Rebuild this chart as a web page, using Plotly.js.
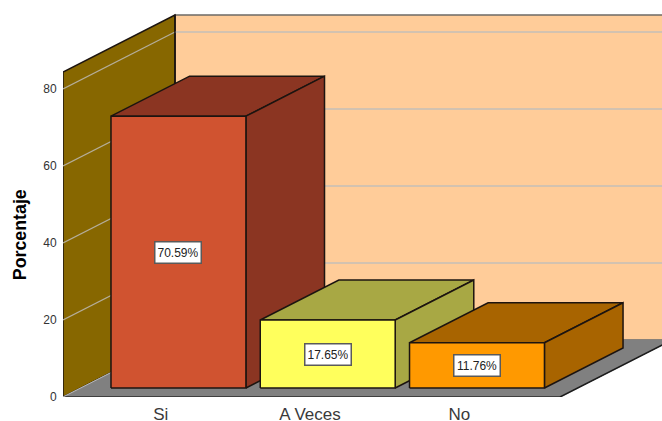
<!DOCTYPE html>
<html>
<head>
<meta charset="utf-8">
<script src="https://cdn.plot.ly/plotly-3.0.1.min.js"></script>
<style>html,body{margin:0;padding:0;background:#fff}#c{width:662px;height:421px}</style>
</head>
<body>
<div id="c"></div>
<script>
const categories = ["Si", "A Veces", "No"];
const values = [70.59, 17.65, 11.76];
const valueLabels = ["70.59%", "17.65%", "11.76%"];
const yTicks = [0, 20, 40, 60, 80];
const frontColors = ["#D05330", "#FFFF5C", "#FF9900"];
const sideColors = ["#8B3522", "#A8A844", "#A86400"];

// oblique projection, expressed in axis units
const depthX = 0.75, depthY = 14.8;
const xMin = -0.655, xMax = 3.358, yMax = 103.1;
const floorRight = 2.675, wallTop = 84.4;
const barHalf = 0.452, barD0 = 0.158, barD1 = 0.86;
const edge = "#1c1410";

function P(x, v, d) { return [x + d * depthX, v + d * depthY]; }
function poly(points, fill, lineColor, width, name) {
  const pts = points.concat([points[0]]);
  return {
    x: pts.map(p => p[0]), y: pts.map(p => p[1]), mode: "lines", fill: "toself",
    fillcolor: fill, line: { color: lineColor, width: width }, hoverinfo: "skip",
    showlegend: false, name: name
  };
}
function seg(a, b, color, width, name) {
  return {
    x: [a[0], b[0]], y: [a[1], b[1]], mode: "lines",
    line: { color: color, width: width }, hoverinfo: "skip", showlegend: false, name: name
  };
}

const traces = [];
// back wall
traces.push(poly([P(xMin,0,1), P(xMin,wallTop,1), P(xMax+1,wallTop,1), P(xMax+1,0,1)], "#FFCC99", "#6e6a66", 1.5, "back wall"));
// left wall
traces.push(poly([P(xMin,0,0), P(xMin,wallTop,0), P(xMin,wallTop,1), P(xMin,0,1)], "#876700", edge, 1.5, "left wall"));
// floor
traces.push(poly([P(xMin,0,0), P(xMin,0,1), P(floorRight,0,1), P(floorRight,0,0)], "#808080", "#808080", 1, "floor"));
traces.push(seg(P(xMin,0,0), P(floorRight,0,0), "#2a2a2a", 1.5, "floor front"));
traces.push(seg(P(floorRight,0,0), P(floorRight,0,1), "#1c1c1c", 1.5, "floor right"));
// gridlines
yTicks.filter(t => t > 0).forEach(t => {
  traces.push(seg(P(xMin,t,0), P(xMin,t,1), "#B5AE9A", 1.2, "wall grid " + t));
  traces.push(seg(P(xMin,t,1), P(xMax+1,t,1), "#C4BFB8", 1.5, "back grid " + t));
});
traces.push(seg(P(xMin,0,1), P(xMin,wallTop,1), edge, 1.5, "wall corner"));
traces.push(seg(P(xMin,0,0), P(xMin,0,1), "#B8B8B8", 1, "wall foot"));

// bars, drawn left to right
const annotations = [];
values.forEach((v, i) => {
  const l = i - barHalf, r = i + barHalf;
  traces.push(poly([P(l,v,barD0), P(l,v,barD1), P(r,v,barD1), P(r,v,barD0)], sideColors[i], edge, 1.5, categories[i] + " top"));
  traces.push(poly([P(r,0,barD0), P(r,v,barD0), P(r,v,barD1), P(r,0,barD1)], sideColors[i], edge, 1.5, categories[i] + " side"));
  traces.push(poly([P(l,0,barD0), P(l,v,barD0), P(r,v,barD0), P(r,0,barD0)], frontColors[i], edge, 1.5, categories[i] + " front"));
  const c = P(i, v / 2, barD0);
  annotations.push({
    x: c[0], y: c[1], xref: "x", yref: "y", text: valueLabels[i], showarrow: false,
    bgcolor: "#FFFFFF", bordercolor: "#5a5a5a", borderwidth: 1.5, borderpad: 2, height: 16, width: 41,
    font: { family: "Liberation Sans", size: 12, color: "#222222" }
  });
});
annotations.push({
  xref: "paper", yref: "paper", x: -0.0735 - 11 / 599, y: 0.41, text: "<b>Porcentaje</b>", textangle: -90,
  showarrow: false, font: { family: "Liberation Sans", size: 17.8, color: "#000000" }
});

const layout = {
  width: 662, height: 421,
  margin: { l: 63, r: 0, t: 0, b: 24, pad: 0 },
  paper_bgcolor: "#FFFFFF", plot_bgcolor: "#FFFFFF",
  showlegend: false,
  font: { family: "Liberation Sans" },
  annotations: annotations,
  xaxis: {
    range: [xMin, xMax], tickmode: "array", tickvals: categories.map((_, i) => i), ticktext: categories,
    showgrid: false, zeroline: false, showline: false, ticks: "outside", ticklen: 2, tickcolor: "rgba(0,0,0,0)",
    tickfont: { family: "Liberation Sans", size: 17, color: "#3a3a3a" }, fixedrange: true
  },
  yaxis: {
    range: [0, yMax], tickmode: "array", tickvals: yTicks, ticktext: yTicks.map(String),
    showgrid: false, zeroline: false, showline: false, ticks: "outside", ticklen: 3, tickcolor: "rgba(0,0,0,0)",
    tickfont: { family: "Liberation Sans", size: 12, color: "#333333" }, fixedrange: true
  }
};
Plotly.newPlot("c", traces, layout, { displayModeBar: false, staticPlot: true });
</script>
</body>
</html>
